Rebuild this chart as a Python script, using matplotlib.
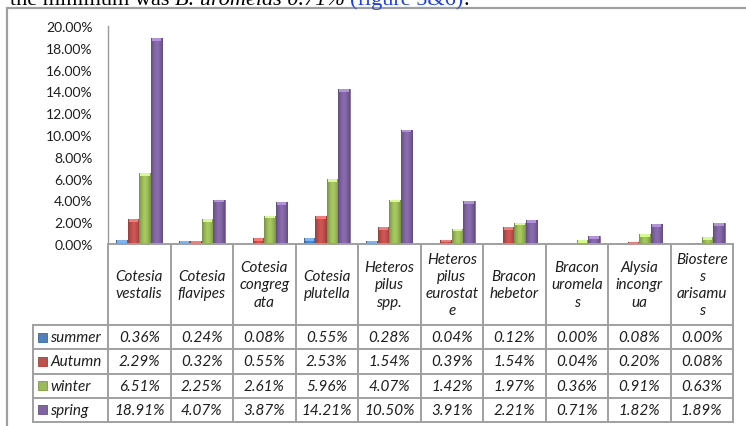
import numpy as np
import matplotlib
matplotlib.use("Agg")
import matplotlib.pyplot as plt
from matplotlib.patches import Rectangle
from matplotlib.lines import Line2D
from matplotlib.ticker import FuncFormatter

# ---- data -------------------------------------------------------------
species = ["Cotesia\nvestalis", "Cotesia\nflavipes", "Cotesia\ncongreg\nata",
           "Cotesia\nplutella", "Heteros\npilus\nspp.", "Heteros\npilus\neurostat\ne",
           "Bracon\nhebetor", "Bracon\nuromela\ns", "Alysia\nincongr\nua",
           "Biostere\ns\narisamu\ns"]
seasons = ["summer", "Autumn", "winter", "spring"]
summer = [0.36, 0.24, 0.08, 0.55, 0.28, 0.04, 0.12, 0.00, 0.08, 0.00]
autumn = [2.29, 0.32, 0.55, 2.53, 1.54, 0.39, 1.54, 0.04, 0.20, 0.08]
winter = [6.51, 2.25, 2.61, 5.96, 4.07, 1.42, 1.97, 0.36, 0.91, 0.63]
spring = [18.91, 4.07, 3.87, 14.21, 10.50, 3.91, 2.21, 0.71, 1.82, 1.89]
series = [summer, autumn, winter, spring]
colors = ["#4F81BD", "#C0504D", "#9BBB59", "#8064A2"]
yticks = [0, 2, 4, 6, 8, 10, 12, 14, 16, 18, 20]

W, H = 746, 427
fig = plt.figure(figsize=(W / 100, H / 100), dpi=100)
plt.rcParams["font.family"] = ["Lato", "DejaVu Sans"]


def fx(x):
    return x / W


def fy(y):
    return 1 - y / H


# ---- sentence running above the chart (clipped by the page) -----------
serif = ["Liberation Serif", "DejaVu Serif"]
parts = [("the minimum was ", "black", "normal"),
         ("B. uromelas 0.71%", "black", "italic"),
         (" ", "black", "normal"),
         ("(figure 5&6)", "#1F3FE0", "normal"),
         (".", "black", "normal")]
fig.canvas.draw()
renderer = fig.canvas.get_renderer()
xcur = 10
for txt, col, sty in parts:
    t = fig.text(fx(xcur), fy(5), txt, color=col, style=sty, family=serif,
                 fontsize=16, va="baseline", ha="left")
    bb = t.get_window_extent(renderer=renderer)
    xcur += bb.width

# ---- outer chart frame ------------------------------------------------
fig.add_artist(Rectangle((fx(7), fy(440)), fx(760 - 7), fy(9) - fy(440),
                         transform=fig.transFigure, fill=False,
                         edgecolor="#A0A0A0", linewidth=1.6))

# ---- bar axes ---------------------------------------------------------
left, right, top, base = 108, 733, 27, 245
ax = fig.add_axes([fx(left), fy(base), fx(right - left), fy(top) - fy(base)])
n = len(species)
bw = 0.184
xpos = np.arange(n)
for k, (vals, c) in enumerate(zip(series, colors)):
    offs = (k - 1.5) * bw
    base_rgb = np.array(matplotlib.colors.to_rgb(c))
    bars = ax.bar(xpos + offs, vals, width=bw, color=c,
                  edgecolor=matplotlib.colors.to_hex(base_rgb * 0.75),
                  linewidth=0.4, zorder=2)
    prof = 1.0 - 0.28 * np.abs(np.linspace(-1, 1, 24)) ** 1.6
    grad = np.clip(base_rgb[None, None, :] * prof[None, :, None] * 1.08, 0, 1)
    for b in bars:
        h = b.get_height()
        if h <= 0:
            continue
        x0 = b.get_x()
        im = ax.imshow(grad, extent=[x0, x0 + bw, 0, h], aspect="auto",
                       zorder=3, interpolation="bilinear")
        im.set_clip_path(b)
        cap = min(0.25, h)
        light = np.clip(base_rgb * 1.25 + 0.08, 0, 1)
        ax.add_patch(Rectangle((x0 + bw * 0.08, h - cap), bw * 0.84, cap,
                               facecolor=light, edgecolor="none", zorder=4))

ax.set_xlim(-0.5, n - 0.5)
ax.set_ylim(0, 20)
ax.set_yticks(yticks)
ax.yaxis.set_major_formatter(FuncFormatter(lambda v, p: f"{v:.2f}%"))
ax.tick_params(axis="y", length=0, pad=11, labelsize=10, labelcolor="#1E1E1E")
ax.set_xticks([])
for s in ["top", "right", "bottom"]:
    ax.spines[s].set_visible(False)
ax.spines["left"].set_color("#9A9A9A")
ax.spines["left"].set_linewidth(1.0)
ax.patch.set_alpha(0)

# ---- data table -------------------------------------------------------
grid = "#A0A0A0"
lw = 1.4
col_w = (right - left) / n
head_top, head_bot = base, 326
row_h = (423 - head_bot) / 4
label_left = 33
row_edges = [head_bot + i * row_h for i in range(5)]
fsz = 11


def hline(x0, x1, y):
    fig.add_artist(Line2D([fx(x0), fx(x1)], [fy(y), fy(y)], color=grid, lw=lw,
                          transform=fig.transFigure))


def vline(x, y0, y1):
    fig.add_artist(Line2D([fx(x), fx(x)], [fy(y0), fy(y1)], color=grid, lw=lw,
                          transform=fig.transFigure))


hline(left, right, head_top)
for y in row_edges:
    hline(label_left, right, y)
for i in range(n + 1):
    vline(left + i * col_w, head_top, row_edges[-1])
vline(label_left, head_bot, row_edges[-1])

for i, name in enumerate(species):
    cx = left + (i + 0.5) * col_w
    fig.text(fx(cx), fy((head_top + head_bot) / 2), name, ha="center",
             va="center", style="italic", fontsize=fsz, linespacing=1.3,
             color="#1E1E1E")

for r, (lab, vals, c) in enumerate(zip(seasons, series, colors)):
    cy = row_edges[r] + row_h / 2
    fig.add_artist(Rectangle((fx(38), fy(cy + 4.5)), fx(9), fy(cy - 4.5) - fy(cy + 4.5),
                             transform=fig.transFigure, facecolor=c,
                             edgecolor=matplotlib.colors.to_hex(np.array(matplotlib.colors.to_rgb(c)) * 0.8),
                             linewidth=0.6))
    fig.text(fx(50), fy(cy), lab, ha="left", va="center", style="italic",
             fontsize=fsz, color="#1E1E1E")
    for i, v in enumerate(vals):
        cx = left + (i + 0.5) * col_w
        fig.text(fx(cx), fy(cy), f"{v:.2f}%", ha="center", va="center",
                 style="italic", fontsize=fsz, color="#1E1E1E")

fig.savefig("out.png", dpi=100)
